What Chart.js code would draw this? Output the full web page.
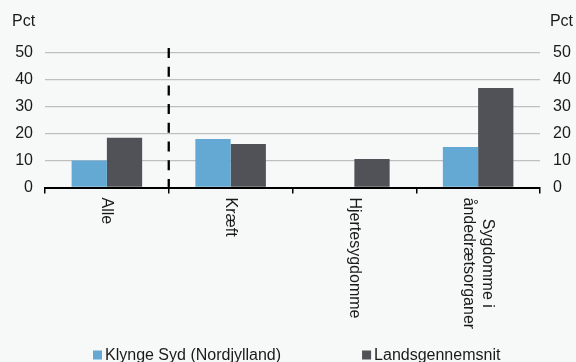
<!DOCTYPE html>
<html>
<head>
<meta charset="utf-8">
<script src="https://cdn.jsdelivr.net/npm/chart.js@4.4.1/dist/chart.umd.min.js"></script>
<style>
    html, body { margin: 0; padding: 0; background: #f7f8f8; }
    #chart { display: block; }
</style>
</head>
<body>
<canvas id="chart" width="576" height="362"></canvas>
<script>
// Données
const categories = ['Alle', 'Kræft', 'Hjertesygdomme', ['Sygdomme i', 'åndedrætsorganer']];
const klyngeSyd = [10, 18, null, 15.1];
const landsgennemsnit = [18.5, 16.2, 10.6, 37];
const yTicks = [0, 10, 20, 30, 40, 50];
const seriesNames = ['Klynge Syd (Nordjylland)', 'Landsgennemsnit'];
const seriesColors = ['#63a9d4', '#515257'];
const unitLabel = 'Pct';

const FONT = "'Liberation Sans', Arial, Helvetica, sans-serif";
const TEXT = '#1a1a1a';

Chart.defaults.font.family = FONT;
Chart.defaults.font.size = 16;
Chart.defaults.color = TEXT;

// Étiquettes de l'axe x, tournées de 90° (lecture de haut en bas)
const xLabelsPlugin = {
    id: 'xLabels',
    afterDraw(chart) {
        const ctx = chart.ctx;
        const xs = chart.scales.x;
        ctx.save();
        ctx.font = '16px ' + FONT;
        ctx.fillStyle = TEXT;
        ctx.textAlign = 'center';
        ctx.textBaseline = 'middle';
        categories.forEach((cat, i) => {
            const lines = Array.isArray(cat) ? cat : [cat];
            const maxW = Math.max(...lines.map(l => ctx.measureText(l).width));
            const lh = 19.5;
            ctx.save();
            ctx.translate(xs.getPixelForValue(i), xs.top + 10);
            ctx.rotate(Math.PI / 2);
            lines.forEach((l, j) => {
                ctx.fillText(l, maxW / 2, (j - (lines.length - 1) / 2) * lh);
            });
            ctx.restore();
        });
        ctx.restore();
    }
};

// Ligne verticale en pointillés entre « Alle » et « Kræft », titres « Pct » et légende
const extrasPlugin = {
    id: 'extras',
    afterDraw(chart) {
        const ctx = chart.ctx;
        const xs = chart.scales.x;
        const area = chart.chartArea;

        const xSep = (xs.getPixelForValue(0) + xs.getPixelForValue(1)) / 2;
        ctx.save();
        ctx.strokeStyle = '#000';
        ctx.lineWidth = 2.3;
        ctx.setLineDash([10, 8.7]);
        ctx.beginPath();
        ctx.moveTo(xSep, area.top - 5);
        ctx.lineTo(xSep, area.bottom + 6);
        ctx.stroke();
        ctx.restore();

        ctx.save();
        ctx.font = '16px ' + FONT;
        ctx.fillStyle = TEXT;
        ctx.textBaseline = 'alphabetic';
        ctx.textAlign = 'left';
        ctx.fillText(unitLabel, 12, 26);
        ctx.textAlign = 'right';
        ctx.fillText(unitLabel, 573, 26);

        // Légende
        ctx.textAlign = 'left';
        let x = 93;
        const yBase = 359.5;
        seriesNames.forEach((name, i) => {
            ctx.fillStyle = seriesColors[i];
            ctx.fillRect(x, 350.5, 9, 9);
            ctx.fillStyle = TEXT;
            ctx.fillText(name, x + 12, yBase);
            x += 12 + ctx.measureText(name).width + 81;
        });
        ctx.restore();
    }
};

const chartConfig = {
    type: 'bar',
    data: {
        labels: categories,
        datasets: [
            {
                label: seriesNames[0],
                data: klyngeSyd,
                backgroundColor: seriesColors[0],
                categoryPercentage: 0.57,
                barPercentage: 1
            },
            {
                label: seriesNames[1],
                data: landsgennemsnit,
                backgroundColor: seriesColors[1],
                categoryPercentage: 0.57,
                barPercentage: 1
            }
        ]
    },
    options: {
        responsive: false,
        animation: false,
        devicePixelRatio: 1,
        layout: { padding: { top: 53, left: 0, right: 0, bottom: 0 } },
        scales: {
            x: {
                ticks: { display: false },
                grid: {
                    display: true,
                    drawOnChartArea: false,
                    drawTicks: true,
                    tickLength: 6,
                    color: '#000',
                    lineWidth: 1.5,
                    offset: true
                },
                border: { display: true, color: '#000', width: 2 },
                afterFit: (scale) => { scale.height = 174.5; }
            },
            y: {
                position: 'left',
                min: yTicks[0],
                max: yTicks[yTicks.length - 1],
                afterBuildTicks: (scale) => { scale.ticks = yTicks.map(v => ({ value: v })); },
                ticks: { padding: 12, color: TEXT, font: { size: 16 } },
                grid: { color: '#bfbfbf', lineWidth: 1.3, drawTicks: false },
                border: { display: false },
                afterFit: (scale) => { scale.width = 45; }
            },
            y2: {
                position: 'right',
                min: yTicks[0],
                max: yTicks[yTicks.length - 1],
                afterBuildTicks: (scale) => { scale.ticks = yTicks.map(v => ({ value: v })); },
                ticks: { padding: 13, color: TEXT, font: { size: 16 } },
                grid: { display: false, drawTicks: false },
                border: { display: false },
                afterFit: (scale) => { scale.width = 36; }
            }
        },
        plugins: {
            legend: { display: false },
            tooltip: { enabled: false },
            title: { display: false }
        }
    },
    plugins: [xLabelsPlugin, extrasPlugin]
};

const ctx = document.getElementById('chart').getContext('2d');
new Chart(ctx, chartConfig);
</script>
</body>
</html>
